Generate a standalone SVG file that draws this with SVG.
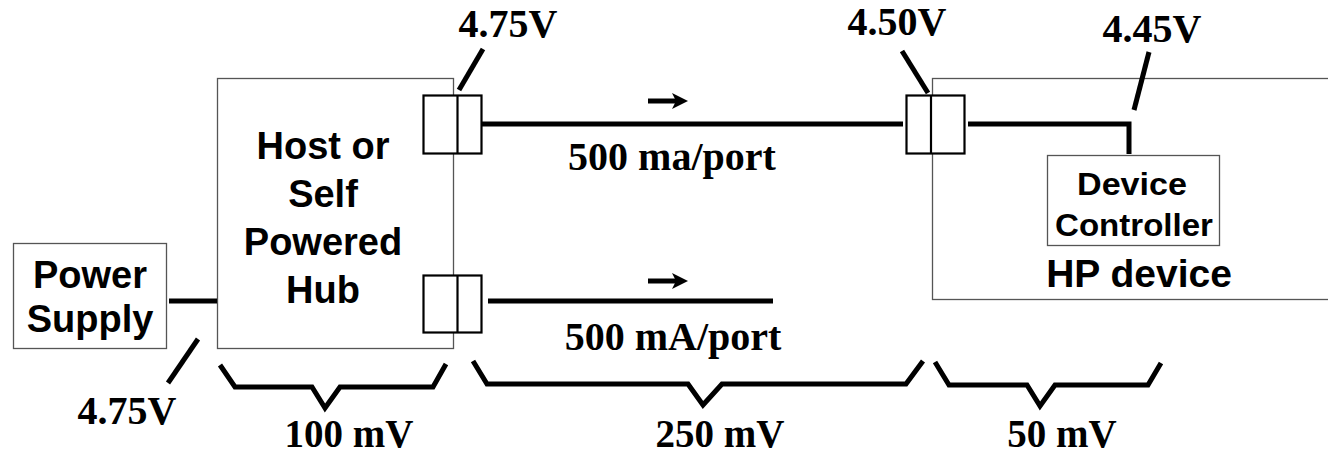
<svg xmlns="http://www.w3.org/2000/svg" width="1328" height="454" viewBox="0 0 1328 454">
<style>
.box{fill:#fff;stroke:#555;stroke-width:1.3}
.port{fill:#fff;stroke:#000;stroke-width:2.2}
.wire{fill:none;stroke:#000;stroke-width:5;stroke-linejoin:miter;stroke-linecap:butt}
.sans{font-family:"Liberation Sans",Arial,sans-serif;font-weight:bold;fill:#000;text-anchor:middle}
.serif{font-family:"Liberation Serif","Times New Roman",serif;font-weight:bold;fill:#000;text-anchor:middle;font-size:40px}
.mv{font-size:39px}
</style>
<g id="power-supply">
<rect class="box" x="13.5" y="243.5" width="153" height="105"/>
<text class="sans" x="90" y="288" font-size="38">Power</text>
<text class="sans" x="90" y="332" font-size="38">Supply</text>
</g>
<g id="hub">
<rect class="box" x="217.5" y="78.5" width="236" height="270"/>
<text class="sans" x="323" y="159" font-size="38">Host or</text>
<text class="sans" x="323" y="207" font-size="38">Self</text>
<text class="sans" x="323" y="255" font-size="38">Powered</text>
<text class="sans" x="323" y="303" font-size="38">Hub</text>
</g>
<g id="hp-device">
<rect class="box" x="932.5" y="78.5" width="400" height="221"/>
<text class="sans" x="1139" y="287" font-size="39">HP device</text>
</g>
<g id="device-controller">
<rect class="box" x="1047.5" y="155.5" width="172" height="90"/>
<text class="sans" x="1132" y="195" font-size="31" textLength="110" lengthAdjust="spacingAndGlyphs">Device</text>
<text class="sans" x="1134" y="236" font-size="31" textLength="158" lengthAdjust="spacingAndGlyphs">Controller</text>
</g>
<g id="port-top">
<rect class="port" x="423.5" y="95.5" width="58" height="58"/>
<line x1="457.5" y1="95.5" x2="457.5" y2="153.5" stroke="#000" stroke-width="2.2"/>
</g>
<g id="port-bottom">
<rect class="port" x="423.5" y="275.5" width="58" height="57"/>
<line x1="457.5" y1="275.5" x2="457.5" y2="332.5" stroke="#000" stroke-width="2.2"/>
</g>
<g id="port-device">
<rect class="port" x="906.5" y="95.5" width="58" height="58"/>
<line x1="931" y1="95.5" x2="931" y2="153.5" stroke="#000" stroke-width="2.2"/>
</g>
<g id="connectors">
<line class="wire" x1="169" y1="301" x2="217" y2="301"/>
<line class="wire" x1="482" y1="124" x2="903" y2="124"/>
<polyline class="wire" points="968,124 1129,124 1129,154"/>
<line class="wire" x1="488" y1="301" x2="773" y2="301"/>
<line class="wire" x1="648" y1="101" x2="678" y2="101"/>
<polygon points="672,93 688,101 672,109 676,101"/>
<line class="wire" x1="648" y1="281" x2="678" y2="281"/>
<polygon points="672,273 688,281 672,289 676,281"/>
<line class="wire" x1="198" y1="339" x2="168" y2="383"/>
<line class="wire" x1="483" y1="49" x2="459" y2="90"/>
<line class="wire" x1="902" y1="51" x2="928" y2="93"/>
<line class="wire" x1="1149" y1="52" x2="1134" y2="110"/>
<polyline class="wire" points="220,365 235,387 312,387 325,408 340,387 433,387 446,364"/>
<polyline class="wire" points="473,361 487,384 688,384 703,405 722,384 906,384 923,361"/>
<polyline class="wire" points="935,362 949,385 1027,385 1040,406 1055,385 1148,385 1161,363"/>
</g>
<g id="labels">
<text class="serif" x="508" y="37">4.75V</text>
<text class="serif" x="897" y="35">4.50V</text>
<text class="serif" x="1152" y="42">4.45V</text>
<text class="serif" x="127" y="424">4.75V</text>
<text class="serif" x="672" y="170">500 ma/port</text>
<text class="serif" x="673" y="350">500 mA/port</text>
<text class="serif mv" x="349" y="447">100 mV</text>
<text class="serif mv" x="720" y="447">250 mV</text>
<text class="serif mv" x="1062" y="447">50 mV</text>
</g>
</svg>
